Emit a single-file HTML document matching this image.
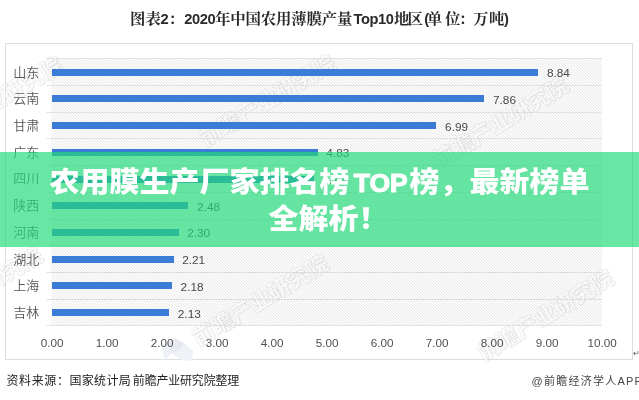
<!DOCTYPE html>
<html lang="zh-CN"><head><meta charset="utf-8"><title>农用膜生产厂家排名榜TOP榜，最新榜单全解析！</title>
<style>
html,body{margin:0;padding:0;background:#fff;}
body{width:639px;height:400px;position:relative;overflow:hidden;font-family:"Liberation Sans","Noto Sans CJK SC",sans-serif;}
.abs{position:absolute;white-space:nowrap;}
#title{left:0;width:639px;top:8px;height:22px;line-height:22px;font-family:"Liberation Sans","Noto Serif CJK SC",serif;font-weight:bold;font-size:14.67px;color:#2a2a2a;}
.t{position:absolute;top:0;white-space:nowrap;}
.c{transform:scaleX(1.05);transform-origin:0 50%;}
#frame{left:5px;top:43px;width:628px;height:316.5px;border:1px solid #dedede;box-sizing:border-box;}
#plot{left:51px;top:58px;width:551px;height:268px;}
.grid{left:47px;width:555px;height:1px;background:repeating-linear-gradient(90deg,#d9d9d9 0,#d9d9d9 2px,rgba(217,217,217,0.25) 2px,rgba(217,217,217,0.25) 3px);}
.bar{height:7px;background:#3b7cd6;left:52px;}
.cat{width:34px;left:5.2px;text-align:right;font-size:13px;font-weight:350;color:#585858;height:16px;line-height:16px;}
.val{font-size:11.8px;color:#484848;height:16px;line-height:16px;}
.xl{font-size:11.7px;color:#505050;width:40px;text-align:center;top:335px;height:16px;line-height:16px;}
#src{left:6.5px;top:372.3px;height:18px;line-height:18px;font-size:12px;color:#222;}
#app{left:531.5px;top:372.2px;height:18px;line-height:18px;font-size:11px;color:#444;letter-spacing:1.25px;}
#band{left:0;top:152px;width:639px;height:94.5px;background:rgba(32,218,120,0.68);}
.hl{font-family:"Liberation Sans","Noto Sans CJK SC",sans-serif;font-weight:900;font-size:30px;color:#fff;height:36px;line-height:36px;transform:scaleY(0.95);transform-origin:50% 50%;}
.top{display:inline-block;width:60px;text-align:center;font-size:26.5px;-webkit-text-stroke:1.1px #fff;letter-spacing:0;text-indent:2.5px;}
.wm{font-family:"Liberation Sans","Noto Sans CJK SC",sans-serif;font-weight:900;font-size:22px;color:rgba(255,255,255,0.55);-webkit-text-stroke:0.6px rgba(140,140,140,0.20);text-shadow:1px 1px 0 rgba(150,150,150,0.08);transform-origin:0 100%;transform:rotate(-31deg);height:24px;line-height:24px;}
</style></head><body>
<div id="title" class="abs"><span class="t c" style="left:129.5px;letter-spacing:0.16px">图表</span><span class="t" style="left:160.6px">2</span><span class="t" style="left:168.7px">：</span><span class="t" style="left:184.3px;letter-spacing:-0.43px">2020</span><span class="t c" style="left:215.3px;letter-spacing:-0.14px">年中国农用薄膜产量</span><span class="t" style="left:353.5px;letter-spacing:-0.42px">Top10</span><span class="t c" style="left:393.7px;letter-spacing:-1.75px">地区</span><span class="t" style="left:424.3px">(</span><span class="t c" style="left:427px">单</span><span class="t c" style="left:445.3px">位</span><span class="t" style="left:459px">：</span><span class="t c" style="left:473.1px">万</span><span class="t c" style="left:489.4px">吨</span><span class="t" style="left:504.1px">)</span></div>
<div id="frame" class="abs"></div>
<svg id="plot" class="abs" width="551" height="268" viewBox="0 0 551 268" shape-rendering="crispEdges"><defs><pattern id="hatch" width="3" height="3" patternUnits="userSpaceOnUse"><rect width="3" height="3" fill="#fbfbfb"/><rect x="0" y="0" width="1" height="1" fill="#ebebeb"/><rect x="1" y="1" width="1" height="1" fill="#ebebeb"/><rect x="2" y="2" width="1" height="1" fill="#ebebeb"/></pattern></defs><rect width="551" height="268" fill="url(#hatch)"/></svg>
<svg class="abs" style="left:160px;top:334px" width="40" height="30" viewBox="0 0 40 30"><polygon points="14,4 24,9 33,17 32,27 21,26 12,19 4,27 2,12" fill="#eef1f5"/><polygon points="14,4 24,9 20,16 12,19 9,10" fill="#e6eaf0"/></svg>
<div class="abs wm" style="left:-85px;top:319px;">前瞻产业研究院</div>
<div class="abs wm" style="left:-65px;top:129px;">前瞻产业研究院</div>
<div class="abs wm" style="left:208px;top:127px;">前瞻产业研究院</div>
<div class="abs wm" style="left:441px;top:149px;">前瞻产业研究院</div>
<div class="abs wm" style="left:201px;top:327px;">前瞻产业研究院</div>
<div class="abs wm" style="left:486px;top:342px;">前瞻产业研究院</div>
<div class="abs grid" style="top:58.4px"></div>
<div class="abs grid" style="top:85.0px"></div>
<div class="abs grid" style="top:111.8px"></div>
<div class="abs grid" style="top:138.4px"></div>
<div class="abs grid" style="top:165.2px"></div>
<div class="abs grid" style="top:191.8px"></div>
<div class="abs grid" style="top:218.5px"></div>
<div class="abs grid" style="top:245.2px"></div>
<div class="abs grid" style="top:271.9px"></div>
<div class="abs grid" style="top:298.6px"></div>
<div class="abs grid" style="top:325.4px"></div>
<div class="abs cat" style="top:64.6px">山东</div><div class="abs bar" style="top:68.7px;width:486.2px"></div><div class="abs val" style="top:65.2px;left:546.9px">8.84</div>
<div class="abs cat" style="top:91.3px">云南</div><div class="abs bar" style="top:95.4px;width:432.3px"></div><div class="abs val" style="top:91.9px;left:493.0px">7.86</div>
<div class="abs cat" style="top:118.0px">甘肃</div><div class="abs bar" style="top:122.1px;width:384.4px"></div><div class="abs val" style="top:118.6px;left:445.1px">6.99</div>
<div class="abs cat" style="top:144.7px">广东</div><div class="abs bar" style="top:148.8px;width:265.6px"></div><div class="abs val" style="top:145.3px;left:326.3px">4.83</div>
<div class="abs cat" style="top:171.4px">四川</div><div class="abs bar" style="top:175.5px;width:261.8px"></div><div class="abs val" style="top:172.0px;left:322.5px">4.76</div>
<div class="abs cat" style="top:198.1px">陕西</div><div class="abs bar" style="top:202.2px;width:136.4px"></div><div class="abs val" style="top:198.7px;left:197.1px">2.48</div>
<div class="abs cat" style="top:224.8px">河南</div><div class="abs bar" style="top:228.9px;width:126.5px"></div><div class="abs val" style="top:225.4px;left:187.2px">2.30</div>
<div class="abs cat" style="top:251.5px">湖北</div><div class="abs bar" style="top:255.6px;width:121.5px"></div><div class="abs val" style="top:252.1px;left:182.2px">2.21</div>
<div class="abs cat" style="top:278.2px">上海</div><div class="abs bar" style="top:282.3px;width:119.9px"></div><div class="abs val" style="top:278.8px;left:180.6px">2.18</div>
<div class="abs cat" style="top:304.9px">吉林</div><div class="abs bar" style="top:309.0px;width:117.1px"></div><div class="abs val" style="top:305.5px;left:177.8px">2.13</div>
<div class="abs xl" style="left:32.1px">0.00</div>
<div class="abs xl" style="left:87.1px">1.00</div>
<div class="abs xl" style="left:142.1px">2.00</div>
<div class="abs xl" style="left:197.1px">3.00</div>
<div class="abs xl" style="left:252.1px">4.00</div>
<div class="abs xl" style="left:307.1px">5.00</div>
<div class="abs xl" style="left:362.1px">6.00</div>
<div class="abs xl" style="left:417.1px">7.00</div>
<div class="abs xl" style="left:472.1px">8.00</div>
<div class="abs xl" style="left:527.1px">9.00</div>
<div class="abs xl" style="left:582.1px">10.00</div>
<div class="abs" style="left:632.5px;top:349px;font-size:8px;line-height:10px;color:#555;">↵</div>
<div id="src" class="abs"><span style="letter-spacing:0.6px">资料来源：</span><span class="s2" style="letter-spacing:0.3px">国家统计局</span><span style="display:inline-block;width:1.8px"></span><span class="s3" style="letter-spacing:-0.2px">前瞻产业研究院整理</span></div>
<div id="app" class="abs">@前瞻经济学人APP</div>
<div id="band" class="abs"></div>
<div class="abs hl" id="l1" style="left:49.5px;top:164.5px;">农用膜生产厂家排名榜<span class="top">TOP</span>榜，最新榜单</div>
<div class="abs hl" id="l2" style="left:268.5px;top:202.2px;">全解析！</div>
</body></html>
